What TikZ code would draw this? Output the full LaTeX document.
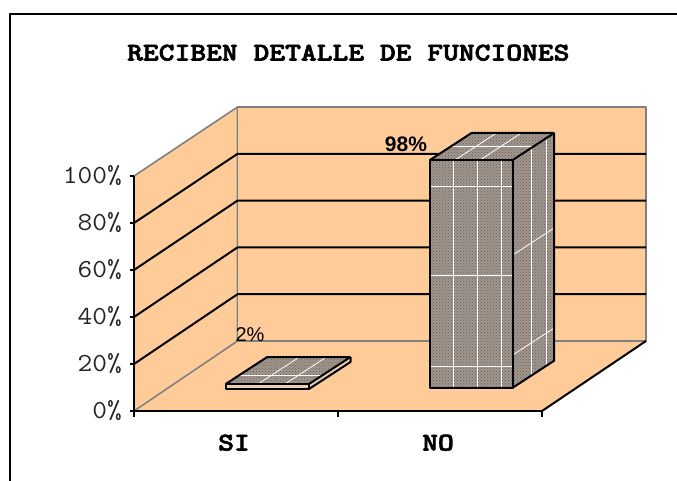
\documentclass[tikz,border=0pt]{standalone}
\usepackage{fontspec}
\setmainfont{Liberation Sans}
\newfontfamily\chartbold{lmmonolt10-bold.otf}[FakeBold=2.5]
\usetikzlibrary{patterns,calc,positioning}

\definecolor{peach}{RGB}{255,204,153}
\definecolor{granite}{RGB}{160,150,142}
\definecolor{speckle}{RGB}{105,96,90}
\definecolor{wallline}{RGB}{128,128,128}
\definecolor{slab}{RGB}{235,205,175}

\begin{document}
\begin{tikzpicture}[x=1pt,y=-1pt,line join=bevel,
  wallfill/.style={fill=peach,draw=wallline,line width=1.6pt},
  gridline/.style={black,line width=2pt},
  column/.style={fill=granite,postaction={pattern=crosshatch dots,pattern color=speckle}},
  edge/.style={draw=black,line width=2pt},
  seam/.style={white,line width=.8pt},
  axislabel/.style={font=\fontsize{26}{28}\ttfamily,anchor=east,inner sep=0pt,text=black!85},
  catlabel/.style={font=\fontsize{25.5}{28}\chartbold,inner sep=0pt},
  valuelabel/.style={font=\fontsize{20}{22}\selectfont,inner sep=0pt}]
\useasboundingbox (0,0) rectangle (677,481);
\draw[line width=2.5pt] (10,490) -- (10,14) -- (690,14);

% walls and floor
\coordinate (o) at (134,411);
\coordinate (ft) at (134,176);
\coordinate (fr) at (542,411);
\coordinate (bo) at (237.5,341);
\coordinate (bt) at (237.5,107);
\coordinate (br) at (646,341);
\coordinate (btr) at (646,107);
\fill[peach] (o) -- (fr) -- (br) -- (bo) -- cycle;
\filldraw[wallfill] (o) -- (ft) -- (bt) -- (bo) -- cycle;
\filldraw[wallfill] (bo) rectangle (btr);
\draw[edge] (fr) -- (br);
\foreach \k in {1,...,4}
  \draw[gridline] (134,411-47*\k) -- (237.5,341-46.8*\k) -- (646,341-46.8*\k);

% axis
\draw[edge] (ft) -- (o) -- (fr);
\foreach \k in {0,...,5}
  \draw[edge] (130,411-47*\k) -- (134,411-47*\k);
\foreach \x in {134,337.7,542}
  \draw[edge] (\x,411) -- (\x,417);
\foreach \k/\v in {0/0,1/20,2/40,3/60,4/80,5/100}
  \node[axislabel] (tick\v) at (122,411-47*\k) {\scalebox{1.1}[1]{\v\%}};

% column NO
\fill[column] (512.7,160) -- (554.2,133) -- (554.2,360.7) -- (512.7,387.7) -- cycle;
\fill[column] (430,160) -- (471.5,133) -- (554.2,133) -- (512.7,160) -- cycle;
\fill[column] (430,160) rectangle (512.7,387.7);
\foreach \x in {453,477.7,501.7}
  \draw[seam] (\x,160) -- (\x,387.7);
\foreach \y in {186,275.7,366.7}
  \draw[seam] (430,\y) -- (512.7,\y);
\draw[seam] (531,148.1) -- (531,375.8);
\draw[seam] (546.7,137.9) -- (546.7,365.6);
\draw[seam] (512.7,255) -- (554.2,228);
\draw[seam] (512.7,355) -- (554.2,328);
\draw[seam] (455,160) -- (496.5,133);
\draw[seam] (480,160) -- (521.5,133);
\draw[seam] (450.7,146.5) -- (533.4,146.5);
\draw[edge] (430,160) rectangle (512.7,387.7);
\draw[edge] (430,160) -- (471.5,133) -- (554.2,133) -- (512.7,160);
\draw[edge] (554.2,133) -- (554.2,360.7) -- (512.7,387.7);

% column SI
\fill[column] (225.7,384) -- (267.2,357) -- (350.5,357) -- (309,384) -- cycle;
\fill[slab] (309,384) -- (350.5,357) -- (350.5,362) -- (309,389) -- cycle;
\fill[slab] (225.7,384) rectangle (309,389);
\draw[seam] (258,384) -- (299.5,357);
\draw[seam] (285,384) -- (326.5,357);
\draw[seam] (240,375) -- (323,375);
\draw[edge] (225.7,384) rectangle (309,389);
\draw[edge] (225.7,384) -- (267.2,357) -- (350.5,357) -- (309,384);
\draw[edge] (350.5,357) -- (350.5,362) -- (309,389);

% labels
\node[catlabel] (title) at (348.3,52.7) {\scalebox{1.18}[1]{RECIBEN DETALLE DE FUNCIONES}};
\node[catlabel] (si) at (234,442.7) {\scalebox{1.18}[1]{SI}};
\node[catlabel] (no) at (438,442.7) {\scalebox{1.18}[1]{NO}};
\node[valuelabel,font=\fontsize{21}{23}\bfseries] (val98) at (406,144) {98\%};
\node[valuelabel] (val2) at (250,335) {2\%};
\end{tikzpicture}
\end{document}
